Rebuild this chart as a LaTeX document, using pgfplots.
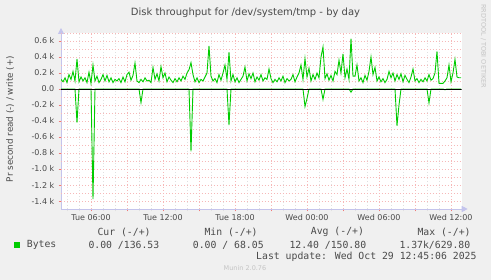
\documentclass[border=0pt]{standalone}
\usepackage{fontspec}
\setmainfont{DejaVu Sans}
\newfontfamily\monofont{DejaVu Sans Mono}
\usepackage{pgfplots}
\pgfplotsset{compat=1.18}
\usetikzlibrary{arrows.meta}
\definecolor{bg}{HTML}{F0F0F0}
\definecolor{mgridc}{HTML}{F6B8B8}
\definecolor{mgridtick}{HTML}{F07878}
\definecolor{mingridc}{HTML}{E0E0E0}
\definecolor{axiscol}{HTML}{C4C4EC}
\definecolor{munin}{HTML}{00CC00}
\definecolor{txt}{HTML}{4A4A4A}
\definecolor{faint}{HTML}{C4C4C4}
\begin{document}
\begin{tikzpicture}[x=1pt,y=1pt]
\useasboundingbox (0,0) rectangle (491,280);
\fill[bg] (0,0) rectangle (491,280);
\begin{axis}[
  at={(61pt,71pt)}, anchor=south west, scale only axis,
  width=400.7pt, height=176pt,
  xmin=210, xmax=2213.5, ymin=-1.5, ymax=0.7,
  axis background/.style={fill=white},
  axis lines=left,
  axis line style={draw=axiscol, line width=0.8pt},
  x axis line style={-{Triangle[width=6pt,length=6pt]}, shorten >=-6pt},
  y axis line style={-{Triangle[width=6pt,length=6pt]}, shorten >=-5pt},
  xtick={360,540,720,900,1080,1260,1440,1620,1800,1980,2160},
  xticklabels={Tue 06:00,,Tue 12:00,,Tue 18:00,,Wed 00:00,,Wed 06:00,,Wed 12:00},
  minor xtick={240,300,420,480,600,660,780,840,960,1020,1140,1200,1320,1380,1500,1560,1680,1740,1860,1920,2040,2100},
  ytick={-1.4,-1.2,-1.0,-0.8,-0.6,-0.4,-0.2,0,0.2,0.4,0.6},
  yticklabels={-1.4 k,-1.2 k,-1.0 k,-0.8 k,-0.6 k,-0.4 k,-0.2 k,0.0,0.2 k,0.4 k,0.6 k},
  grid=none,
  tick align=outside,
  major tick length=2.5pt, minor tick length=2.5pt,
  major tick style={draw=mgridtick, line width=0.6pt},
  minor tick style={draw=mingridc, line width=0.6pt},
  ticklabel style={font=\fontsize{8}{9}\selectfont, text=txt},
  yticklabel style={anchor=east, inner sep=0pt, xshift=-4pt},
  xticklabel style={anchor=north, inner sep=0pt, yshift=-2.5pt},
  clip=true,
]
\pgfplotsinvokeforeach{240,300,420,480,600,660,780,840,960,1020,1140,1200,1320,1380,1500,1560,1680,1740,1860,1920,2040,2100}{
  \draw[mingridc, dash pattern=on 0.8pt off 2.2pt, line width=0.5pt] (axis cs:#1,-1.5) -- (axis cs:#1,0.7);
}
\pgfplotsinvokeforeach{360,540,720,900,1080,1260,1440,1620,1800,1980,2160}{
  \draw[mgridc, dash pattern=on 0.8pt off 2.2pt, line width=0.5pt] (axis cs:#1,-1.5) -- (axis cs:#1,0.7);
}
\pgfplotsinvokeforeach{-1.4,-1.3,-1.2,-1.1,-1.0,-0.9,-0.8,-0.7,-0.6,-0.5,-0.4,-0.3,-0.2,-0.1,0.1,0.2,0.3,0.4,0.5,0.6,0.7}{
  \draw[mgridc, dash pattern=on 0.8pt off 2.2pt, line width=0.5pt] (axis cs:210,#1) -- (axis cs:2213.5,#1);
}
\addplot[munin, line width=0.9pt] coordinates {
(210,0.12) (220,0.09) (230,0.14) (240,0.08) (250,0.18) (260,0.12) (270,0.22) (280,0.10) (290,0.375) (300,0.09)
(310,0.15) (320,0.10) (330,0.14) (340,0.08) (350,0.21) (360,0.07) (370,0.30) (380,0.10) (390,0.16) (400,0.08)
(410,0.12) (420,0.18) (430,0.10) (440,0.17) (450,0.09) (460,0.14) (470,0.08) (480,0.12) (490,0.10) (500,0.13)
(510,0.08) (520,0.15) (530,0.09) (540,0.18) (550,0.21) (560,0.11) (570,0.17) (580,0.325) (590,0.10) (600,0.08)
(610,0.12) (620,0.09) (630,0.14) (640,0.10) (650,0.11) (660,0.08) (670,0.27) (680,0.12) (690,0.19) (700,0.10)
(710,0.28) (720,0.14) (730,0.20) (740,0.09) (750,0.15) (760,0.11) (770,0.08) (780,0.13) (790,0.09) (800,0.14)
(810,0.10) (820,0.16) (830,0.12) (840,0.20) (850,0.24) (860,0.33) (870,0.18) (880,0.09) (890,0.14) (900,0.08)
(910,0.12) (920,0.10) (930,0.15) (940,0.20) (950,0.54) (960,0.16) (970,0.10) (980,0.13) (990,0.08) (1000,0.18)
(1010,0.11) (1020,0.20) (1030,0.30) (1040,0.12) (1050,0.46) (1060,0.10) (1070,0.18) (1080,0.09) (1090,0.14) (1100,0.08)
(1110,0.12) (1120,0.16) (1130,0.275) (1140,0.10) (1150,0.19) (1160,0.13) (1170,0.20) (1180,0.09) (1190,0.15) (1200,0.11)
(1210,0.18) (1220,0.10) (1230,0.14) (1240,0.12) (1250,0.25) (1260,0.13) (1270,0.08) (1280,0.12) (1290,0.09) (1300,0.14)
(1310,0.10) (1320,0.16) (1330,0.08) (1340,0.13) (1350,0.10) (1360,0.12) (1370,0.18) (1380,0.09) (1390,0.15) (1400,0.20)
(1410,0.30) (1420,0.12) (1430,0.38) (1440,0.15) (1450,0.26) (1460,0.10) (1470,0.18) (1480,0.12) (1490,0.20) (1500,0.14)
(1510,0.40) (1520,0.525) (1530,0.13) (1540,0.19) (1550,0.11) (1560,0.17) (1570,0.10) (1580,0.22) (1590,0.18) (1600,0.36)
(1610,0.20) (1620,0.44) (1630,0.14) (1640,0.25) (1650,0.12) (1660,0.63) (1670,0.16) (1680,0.16) (1690,0.30) (1700,0.10)
(1710,0.14) (1720,0.08) (1730,0.17) (1740,0.11) (1750,0.22) (1760,0.40) (1770,0.18) (1780,0.27) (1790,0.10) (1800,0.15)
(1810,0.09) (1820,0.13) (1830,0.08) (1840,0.12) (1850,0.22) (1860,0.14) (1870,0.20) (1880,0.10) (1890,0.18) (1900,0.12)
(1910,0.19) (1920,0.09) (1930,0.17) (1940,0.12) (1950,0.08) (1960,0.15) (1970,0.25) (1980,0.10) (1990,0.13) (2000,0.08)
(2010,0.12) (2020,0.09) (2030,0.14) (2040,0.10) (2050,0.18) (2060,0.11) (2070,0.13) (2080,0.20) (2090,0.47) (2100,0.07)
(2110,0.07) (2120,0.07) (2130,0.10) (2140,0.14) (2150,0.30) (2160,0.09) (2170,0.20) (2180,0.37) (2190,0.15) (2200,0.14)
(2210,0.14)
};
\addplot[munin, line width=0.9pt] coordinates {
(210,0) (280,0) (290,-0.42) (300,0) (360,0) (370,-1.375) (380,0) (600,0) (610,-0.17) (620,0)
(850,0) (860,-0.78) (870,0) (1040,0) (1050,-0.45) (1060,0) (1420,0) (1430,-0.22) (1440,-0.12) (1450,0)
(1510,0) (1520,-0.13) (1530,0) (1650,0) (1660,-0.04) (1670,0) (1880,0) (1890,-0.46) (1900,-0.2) (1910,0)
(2040,0) (2050,-0.175) (2060,0) (2120,0) (2130,-0.01) (2140,0) (2210,0)
};
\addplot[black, line width=0.9pt] coordinates {(210,0) (2213.5,0)};
\end{axis}
\node[font=\fontsize{10}{12}\selectfont, text=txt] at (245.5,267.7) {Disk throughput for /dev/system/tmp - by day};
\node[rotate=-90, anchor=west, font=\fontsize{6.5}{8}\selectfont, text=faint, inner sep=0pt] at (483.5,276) {RRDTOOL / TOBI OETIKER};
\node[rotate=90, font=\fontsize{8.8}{10}\selectfont, text=txt, inner sep=0pt] at (10,161) {Pr second read (-) / write (+)};
\fill[munin] (14,32) rectangle (20,38);
\begin{scope}[every node/.style={font=\monofont\fontsize{9.8}{11}\selectfont, text=txt, inner sep=0pt, anchor=west}]
\node at (26.7,35) {Bytes};
\node at (97.3,47.7) {Cur (-/+)};
\node at (204.3,47.7) {Min (-/+)};
\node at (310.7,47.7) {Avg (-/+)};
\node at (417.3,47.7) {Max (-/+)};
\node at (88.3,35) {0.00 /136.53};
\node at (192.7,35) {0.00 / 68.05};
\node at (289.3,35) {12.40 /150.80};
\node at (399.3,35) {1.37k/629.80};
\node[anchor=east] at (476.7,23.3) {Last update: Wed Oct 29 12:45:06 2025};
\end{scope}
\node[font=\fontsize{6.5}{8}\selectfont, text=faint, inner sep=0pt] at (245,12.3) {Munin 2.0.76};
\end{tikzpicture}
\end{document}
